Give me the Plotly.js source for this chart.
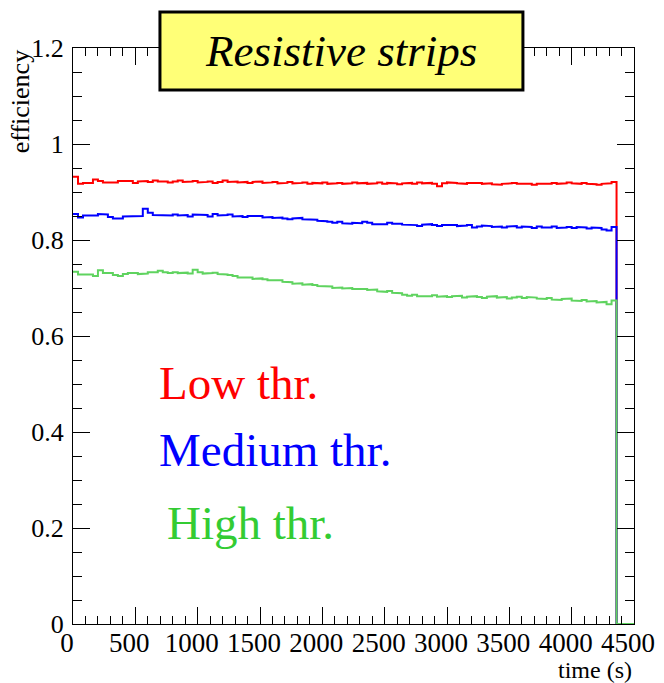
<!DOCTYPE html>
<html>
<head>
<meta charset="utf-8">
<script src="https://cdn.plot.ly/plotly-3.0.1.min.js"></script>
<style>html,body{margin:0;padding:0;background:#fff;}#chart{width:664px;height:683px;}</style>
</head>
<body>
<div id="chart"></div>
<script>
// Histogram binning (seconds)
const binWidth = 40;
const axisRange = [0, 4500];

// Efficiency per time bin
const lowThr = [
0.932,0.917,0.919,0.919,0.926,0.923,0.920,0.920,0.920,0.923,
0.923,0.923,0.919,0.922,0.923,0.921,0.924,0.922,0.922,0.920,
0.922,0.924,0.921,0.922,0.923,0.920,0.921,0.922,0.919,0.921,
0.924,0.921,0.922,0.920,0.921,0.919,0.921,0.922,0.919,0.920,
0.921,0.918,0.919,0.921,0.918,0.919,0.920,0.917,0.919,0.918,
0.920,0.917,0.918,0.919,0.917,0.918,0.920,0.918,0.919,0.917,
0.918,0.920,0.917,0.919,0.918,0.916,0.918,0.919,0.917,0.920,
0.918,0.919,0.917,0.912,0.918,0.920,0.919,0.918,0.917,0.919,
0.918,0.919,0.917,0.918,0.916,0.915,0.917,0.918,0.919,0.917,
0.918,0.917,0.915,0.917,0.918,0.917,0.919,0.917,0.918,0.920,
0.918,0.917,0.919,0.917,0.916,0.915,0.917,0.918,0.921];

const mediumThr = [
0.854,0.847,0.851,0.851,0.851,0.854,0.853,0.848,0.845,0.845,
0.849,0.850,0.850,0.850,0.865,0.857,0.852,0.851,0.852,0.851,
0.853,0.851,0.852,0.849,0.853,0.852,0.852,0.849,0.854,0.851,
0.852,0.853,0.849,0.850,0.848,0.850,0.849,0.850,0.847,0.848,
0.846,0.847,0.845,0.843,0.845,0.846,0.843,0.842,0.842,0.840,
0.839,0.838,0.836,0.838,0.835,0.834,0.836,0.835,0.838,0.836,
0.833,0.832,0.833,0.836,0.834,0.834,0.832,0.831,0.831,0.829,
0.832,0.833,0.831,0.829,0.831,0.832,0.831,0.829,0.830,0.831,
0.826,0.828,0.830,0.829,0.827,0.828,0.826,0.828,0.829,0.826,
0.828,0.827,0.825,0.828,0.826,0.826,0.828,0.825,0.826,0.827,
0.825,0.827,0.826,0.824,0.826,0.825,0.822,0.820,0.827];

const highThr = [
0.734,0.728,0.727,0.728,0.725,0.737,0.731,0.731,0.727,0.725,
0.729,0.731,0.731,0.729,0.730,0.733,0.733,0.736,0.733,0.731,
0.733,0.731,0.732,0.730,0.738,0.733,0.730,0.731,0.732,0.729,
0.728,0.727,0.725,0.722,0.721,0.722,0.719,0.720,0.718,0.716,
0.715,0.716,0.713,0.712,0.709,0.710,0.707,0.708,0.706,0.704,
0.703,0.703,0.700,0.701,0.699,0.700,0.698,0.697,0.698,0.696,
0.697,0.693,0.692,0.694,0.690,0.689,0.686,0.684,0.686,0.683,
0.684,0.683,0.685,0.682,0.683,0.681,0.683,0.684,0.680,0.682,
0.683,0.681,0.679,0.682,0.683,0.680,0.681,0.678,0.680,0.682,
0.679,0.681,0.680,0.678,0.677,0.679,0.676,0.675,0.677,0.678,
0.674,0.673,0.675,0.672,0.673,0.670,0.671,0.666,0.674];

const seriesNames = ["Low thr.", "Medium thr.", "High thr."];
const lineColors = ["#ff0000", "#0000ff", "#5fd35f"];
const textColors = ["#ff0000", "#0000ff", "#33cc33"];

// ROOT-like step outline: bins, drop to zero, empty bins up to axis end
function stepTrace(vals, color, name) {
  const x = [], y = [];
  for (let i = 0; i < vals.length; i++) {
    if (i > 0) { x.push(i * binWidth); y.push(vals[i - 1]); }
    x.push(i * binWidth); y.push(vals[i]);
  }
  const end = vals.length * binWidth;
  x.push(end); y.push(vals[vals.length - 1]);
  x.push(end); y.push(0);
  x.push(axisRange[1]); y.push(0);
  return {x, y, type: 'scatter', mode: 'lines', name,
    line: {color, width: 2}, hoverinfo: 'skip'};
}

const traces = [
  stepTrace(lowThr, lineColors[0], seriesNames[0]),
  stepTrace(mediumThr, lineColors[1], seriesNames[1]),
  stepTrace(highThr, lineColors[2], seriesNames[2])
];

const serif = "Liberation Serif";
const axisCommon = {
  showline: true, linecolor: '#000', linewidth: 1, mirror: 'allticks',
  ticks: 'inside', tickcolor: '#000', tickwidth: 1, ticklen: 17,
  showgrid: false, zeroline: false, fixedrange: true,
  exponentformat: 'none', separatethousands: false
};

const layout = {
  width: 664, height: 683,
  margin: {l: 73, r: 30, t: 48, b: 59},
  paper_bgcolor: '#fff', plot_bgcolor: '#fff',
  showlegend: false,
  font: {family: serif, color: '#000'},
  xaxis: Object.assign({}, axisCommon, {range: axisRange, dtick: 500, tick0: 0,
    ticklabelstandoff: -5, ticklabelshift: -6,
    tickfont: {family: serif, size: 27, color: '#000'},
    minor: {dtick: 100, ticks: 'inside', ticklen: 8, tickcolor: '#000', showgrid: false}}),
  yaxis: Object.assign({}, axisCommon, {range: [0, 1.2], dtick: 0.2, tick0: 0,
    ticklabelstandoff: 3,
    tickfont: {family: serif, size: 26, color: '#000'},
    minor: {dtick: 0.05, ticks: 'inside', ticklen: 9, tickcolor: '#000', showgrid: false}}),
  shapes: [
    {type: 'rect', xref: 'paper', yref: 'paper', x0: 0.155, x1: 0.802, y0: 0.927, y1: 1.0625,
      fillcolor: '#ffff77', line: {color: '#000', width: 3}, layer: 'above'}
  ],
  annotations: [
    {text: 'Resistive strips', xref: 'paper', yref: 'paper', x: 0.4786, y: 0.995,
      xanchor: 'center', yanchor: 'middle', showarrow: false,
      font: {family: serif, size: 45, color: '#000', style: 'italic'}},
    {text: seriesNames[0], xref: 'paper', yref: 'paper', x: 0.1497, y: 0.418,
      xanchor: 'left', yanchor: 'middle', showarrow: false,
      font: {family: serif, size: 47, color: textColors[0]}},
    {text: seriesNames[1], xref: 'paper', yref: 'paper', x: 0.1497, y: 0.302,
      xanchor: 'left', yanchor: 'middle', showarrow: false,
      font: {family: serif, size: 47, color: textColors[1]}},
    {text: seriesNames[2], xref: 'paper', yref: 'paper', x: 0.164, y: 0.175,
      xanchor: 'left', yanchor: 'middle', showarrow: false,
      font: {family: serif, size: 47, color: textColors[2]}},
    {text: 'efficiency', xref: 'paper', yref: 'paper', x: -0.093, y: 1.0,
      xanchor: 'center', yanchor: 'top', textangle: -90, showarrow: false,
      font: {family: serif, size: 26, color: '#000'}},
    {text: 'time (s)', xref: 'paper', yref: 'paper', x: 1.0, y: -0.0799,
      xanchor: 'right', yanchor: 'middle', showarrow: false,
      font: {family: serif, size: 24, color: '#000'}}
  ]
};

Plotly.newPlot('chart', traces, layout, {displayModeBar: false, staticPlot: true});
</script>
</body>
</html>
